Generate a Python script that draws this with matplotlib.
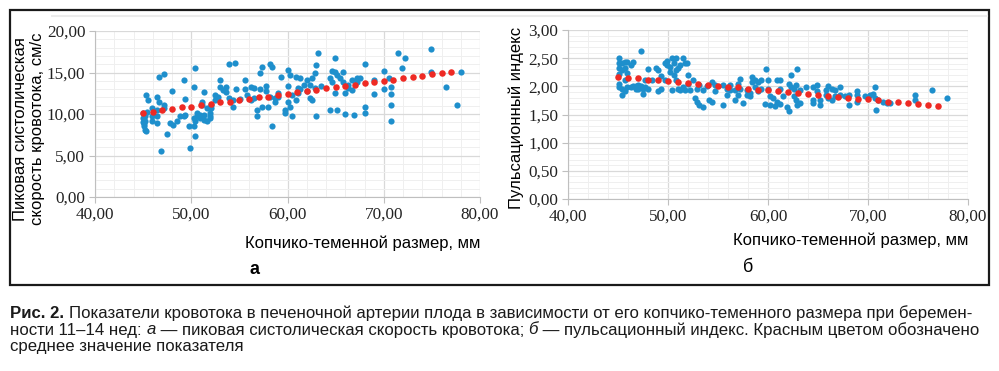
import matplotlib.pyplot as plt
from matplotlib.ticker import MultipleLocator, FuncFormatter
from matplotlib.patches import Rectangle
from matplotlib.lines import Line2D

# tick numbers are serif in the original; all other text sets its family itself
plt.rcParams['font.family'] = 'Liberation Serif'

# --- panel a: peak systolic velocity vs CRL ---
crl_a = [45.0, 45.0, 45.1, 45.2, 45.3, 45.0, 45.3, 45.5, 45.2, 45.1, 45.4, 45.2,
         45.9, 45.9, 45.9, 46.4, 46.4, 46.4, 46.4, 46.7, 46.7, 46.9, 47.2, 47.2, 47.2,
         47.5, 47.8, 48.0, 48.1, 48.5, 48.8, 49.2, 49.2, 49.4, 49.4, 49.8, 49.9,
         50.3, 50.3, 50.3, 50.4, 50.4, 50.4, 50.6, 50.6, 50.9, 50.9, 51.1, 51.1,
         51.3, 51.3, 51.3, 51.6, 51.6, 51.9, 51.9, 51.9, 52.0, 52.0, 52.5, 52.5,
         52.8, 53.0, 53.0, 53.3, 53.6, 53.6, 53.9, 53.9, 54.3, 54.3, 54.5, 54.7,
         55.1, 55.6, 55.6, 55.8, 56.2, 56.2, 56.5, 56.5, 56.8, 56.8, 57.1, 57.1,
         57.3, 57.3, 57.8, 57.8, 58.0, 58.2, 58.2, 58.4, 58.4, 58.7, 58.7, 59.0, 59.0,
         59.3, 59.7, 59.7, 60.0, 60.0, 60.0, 60.3, 60.3, 60.5, 60.5, 60.9, 60.9,
         61.1, 61.1, 61.3, 61.3, 61.7, 62.0, 62.0, 62.3, 62.3, 62.5, 62.5, 62.9, 62.9,
         63.0, 63.0, 63.2, 63.5, 64.4, 64.4, 64.6, 64.6, 64.9, 64.9, 64.9, 65.1, 65.1,
         65.5, 65.8, 65.8, 66.0, 66.0, 66.3, 66.3, 66.7, 66.7, 66.9, 67.2, 67.2, 67.5,
         68.1, 68.1, 68.1, 69.0, 69.0, 70.0, 70.0, 70.5, 70.8, 70.8, 70.8, 70.8,
         71.5, 71.9, 72.2, 74.9, 74.9, 76.5, 77.6, 78.0]
psv = [9.5, 9.0, 8.5, 8.1, 7.9, 10.1, 12.3, 11.7, 9.7, 8.8, 10.3, 9.2,
       9.7, 10.7, 9.1, 12.1, 10.5, 9.7, 8.9, 14.5, 11.5, 5.6, 14.8, 11.1, 10.7,
       7.6, 8.9, 12.8, 8.7, 9.1, 9.7, 14.1, 9.7, 11.8, 9.9, 8.5, 5.9,
       13.2, 9.5, 8.5, 15.6, 7.4, 9.1, 9.7, 10.1, 9.9, 9.5, 11.5, 11.1,
       12.6, 9.3, 9.9, 10.7, 9.1, 10.1, 9.7, 9.5, 11.1, 10.7, 12.3, 11.7,
       12.1, 14.1, 13.3, 12.9, 13.2, 12.7, 16.0, 11.9, 10.9, 11.7, 16.1, 13.0,
       11.8, 14.1, 13.0, 12.3, 13.3, 11.7, 13.1, 11.9, 9.7, 10.5, 15.0, 13.0,
       15.7, 10.9, 13.4, 12.8, 10.9, 16.0, 12.1, 15.7, 8.5, 11.5, 11.9, 12.1, 12.5,
       14.5, 10.1, 10.5, 15.3, 13.4, 11.5, 14.7, 10.9, 9.7, 12.3, 14.5, 11.7,
       13.1, 12.5, 14.3, 13.0, 13.5, 14.1, 12.8, 11.9, 13.5, 11.7, 14.3, 14.9, 13.1,
       15.9, 9.7, 17.4, 13.4, 14.3, 10.5, 15.2, 13.9, 16.8, 15.1, 12.5, 10.5, 14.7,
       14.3, 15.1, 13.9, 10.0, 12.5, 13.1, 13.5, 14.1, 12.9, 9.9, 13.9, 14.3, 14.3,
       16.0, 10.8, 10.1, 14.1, 12.4, 15.2, 13.0, 14.3, 13.2, 9.1, 12.4, 11.1,
       17.4, 15.6, 16.8, 17.8, 15.1, 13.2, 11.1, 15.1]

# --- panel b: pulsatility index vs CRL ---
crl_b = [45.1, 45.1, 45.1, 45.1, 45.1, 45.1, 45.4, 45.4, 45.4, 45.4,
         45.7, 45.7, 45.7, 45.7, 45.9, 45.9, 45.9, 46.3, 46.3, 46.5, 46.5, 46.8, 46.8,
         47.0, 47.0, 47.3, 47.3, 47.5, 47.5, 47.7, 47.7, 48.0, 48.0, 48.4, 48.8,
         49.0, 49.0, 49.3, 49.3, 49.7, 49.7, 49.9, 49.9, 50.2, 50.2, 50.4, 50.4,
         50.6, 50.6, 50.8, 50.8, 50.8, 51.0, 51.0, 51.2, 51.2, 51.5, 51.5, 51.7, 51.7,
         51.9, 52.0, 52.0, 52.2, 52.5, 52.7, 52.9, 52.9, 53.1, 53.1, 53.5, 53.5,
         53.9, 54.1, 54.4, 54.4, 54.7, 54.7, 55.5, 55.5, 55.9, 55.9, 56.2, 56.2,
         56.7, 56.7, 57.0, 57.0, 57.2, 57.2, 57.5, 57.9, 57.9, 58.2, 58.2, 58.4, 58.4,
         58.7, 58.7, 59.0, 59.0, 59.3, 59.3, 59.7, 59.8, 60.0, 60.0, 60.2, 60.2,
         60.5, 60.7, 60.9, 60.9, 61.2, 61.2, 61.2, 61.5, 61.9, 62.1, 62.1, 62.3, 62.3,
         62.6, 62.6, 62.8, 62.8, 62.9, 62.9, 63.2, 63.2, 63.8, 64.5, 64.5, 64.5,
         64.9, 64.9, 65.2, 65.2, 65.8, 65.8, 66.0, 66.0, 66.4, 66.4, 66.7, 66.7,
         67.2, 67.2, 67.7, 68.1, 68.1, 68.9, 68.9, 68.9, 69.7, 70.2, 70.5, 70.7,
         70.7, 70.8, 71.0, 71.5, 71.9, 72.2, 74.7, 74.7, 76.4, 77.9]
pi = [2.51, 2.42, 2.32, 2.22, 2.04, 1.98, 2.42, 2.29, 1.96, 1.85,
      2.44, 2.32, 2.11, 1.91, 2.44, 2.23, 1.98, 1.99, 2.38, 2.44, 2.00, 2.00, 1.95,
      2.02, 1.96, 2.62, 2.00, 1.86, 1.96, 2.11, 1.98, 2.30, 1.96, 2.12, 2.32,
      2.29, 1.92, 2.18, 1.95, 2.42, 2.11, 2.45, 2.38, 2.35, 2.26, 2.51, 1.93,
      2.42, 2.20, 2.50, 2.29, 2.11, 2.32, 1.96, 2.38, 1.93, 2.51, 1.99, 2.41, 1.93,
      2.42, 2.20, 2.05, 1.93, 2.11, 1.79, 1.73, 1.96, 1.67, 2.02, 1.64, 1.93,
      2.00, 1.76, 2.08, 1.73, 1.92, 2.02, 1.67, 2.02, 1.85, 1.96, 2.02, 1.93,
      1.93, 1.76, 1.85, 2.05, 2.13, 1.96, 1.70, 1.85, 1.93, 1.88, 1.83, 2.17, 2.08,
      1.99, 2.11, 1.91, 2.08, 2.11, 1.96, 1.69, 2.30, 2.11, 1.96, 1.82, 1.67,
      1.79, 1.65, 2.11, 1.73, 2.11, 1.96, 1.69, 1.82, 1.64, 1.57, 2.05, 2.20, 1.99,
      1.82, 1.96, 1.76, 2.02, 2.30, 1.67, 1.70, 1.93, 1.98, 1.76, 1.99, 1.70,
      2.02, 1.91, 1.67, 1.76, 1.93, 1.85, 2.00, 1.79, 1.96, 1.76, 1.82, 1.93,
      1.99, 1.85, 1.82, 1.67, 1.85, 1.91, 1.73, 1.85, 1.82, 1.85, 1.86, 1.99,
      1.79, 1.58, 1.76, 1.73, 1.71, 1.71, 1.85, 1.76, 1.93, 1.79]

# --- mean values (red dots) ---
mean_crl = [45, 46, 47, 48, 49, 50, 51, 52, 53, 54, 55, 56, 57, 58, 59, 60, 61,
            62, 63, 64, 65, 66, 67, 68, 69, 70, 71, 72, 73, 74, 75, 76, 77]
mean_psv = [10.1, 10.3, 10.5, 10.6, 10.8, 10.9, 11.1, 11.2, 11.4, 11.5, 11.7, 11.8,
            12.0, 12.1, 12.3, 12.4, 12.6, 12.8, 12.9, 13.1, 13.2, 13.4, 13.5, 13.7,
            13.8, 14.0, 14.1, 14.3, 14.4, 14.6, 14.8, 14.9, 15.1]
mean_pi = [2.17, 2.15, 2.14, 2.12, 2.11, 2.09, 2.07, 2.06, 2.04, 2.03, 2.01, 1.99,
           1.98, 1.96, 1.94, 1.93, 1.91, 1.90, 1.88, 1.86, 1.85, 1.83, 1.81, 1.80,
           1.78, 1.77, 1.75, 1.73, 1.72, 1.70, 1.68, 1.67, 1.65]

BLUE = '#1e8fcc'
RED = '#ee2a24'
SANS = 'Liberation Sans'
comma = FuncFormatter(lambda v, p: f'{v:.2f}'.replace('.', ','))

fig = plt.figure(figsize=(9.99, 3.71), dpi=100)


def panel(rect, x, y, mx, my, ymax, ymaj, ymin, ylabel):
    ax = fig.add_axes(rect)
    ax.scatter(x, y, s=20, color=BLUE, linewidths=0, zorder=3)
    ax.scatter(mx, my, s=22, color=RED, linewidths=0, zorder=4)
    ax.set_xlim(40, 80)
    ax.set_ylim(0, ymax)
    ax.xaxis.set_major_locator(MultipleLocator(10))
    ax.xaxis.set_minor_locator(MultipleLocator(2))
    ax.yaxis.set_major_locator(MultipleLocator(ymaj))
    ax.yaxis.set_minor_locator(MultipleLocator(ymin))
    ax.xaxis.set_major_formatter(comma)
    ax.yaxis.set_major_formatter(comma)
    ax.grid(which='major', color='#d9d9d9', lw=0.9)
    ax.grid(which='minor', color='#efefef', lw=0.7)
    ax.set_axisbelow(True)
    for s in ['top', 'right']:
        ax.spines[s].set_visible(False)
    for s in ['left', 'bottom']:
        ax.spines[s].set_color('#bfbfbf')
    ax.tick_params(which='major', length=4, color='#bfbfbf', labelsize=12.3, pad=3,
                   labelcolor='#222222')
    ax.tick_params(which='minor', length=0)
    ax.set_ylabel(ylabel, fontsize=12, family=SANS, va='center')
    ax.set_xlabel('Копчико-теменной размер, мм', fontsize=12, family=SANS,
                  ha='right', va='center')
    return ax


axa = panel([0.0951, 0.469, 0.3854, 0.4474], crl_a, psv, mean_crl, mean_psv,
            20, 5, 1, 'Пиковая систолическая\nскорость кровотока, см/с')
axb = panel([0.5686, 0.4636, 0.4004, 0.4555], crl_b, pi, mean_crl, mean_pi,
            3, 0.5, 0.1, 'Пульсационный индекс')
axa.yaxis.set_label_coords(-0.172, 0.41)
axa.xaxis.set_label_coords(1.0, -0.277)
axb.yaxis.set_label_coords(-0.13, 0.48)
axb.xaxis.set_label_coords(1.0, -0.243)

# frame around both panels and faint top line
fig.patches.append(Rectangle((10 / 999, 1 - 285 / 371), 979 / 999, 275 / 371,
                             transform=fig.transFigure, fill=False, ec='#1a1a1a', lw=1.6))
fig.lines.append(Line2D([52 / 999, 987 / 999], [1 - 16 / 371] * 2,
                        transform=fig.transFigure, color='#ebebeb', lw=1.5))

fig.text(254 / 999, 1 - 269 / 371, 'а', fontsize=13, weight='bold',
         family=SANS, ha='center', va='center')
fig.text(748 / 999, 1 - 268 / 371, 'б', fontsize=13,
         family=SANS, ha='center', va='center')

# caption, written piece by piece so bold / italic parts sit inline
renderer = fig.canvas.get_renderer()


def line(y, pieces):
    x = 10
    for txt, kw in pieces:
        t = fig.text(x / 999, 1 - y / 371, txt, fontsize=12.1, family=SANS,
                     va='center', color='#1a1a1a', **kw)
        x = t.get_window_extent(renderer).x1


line(313, [('Рис. 2. ', {'weight': 'bold'}),
           ('Показатели кровотока в печеночной артерии плода в зависимости от его '
            'копчико-теменного размера при беремен-', {})])
line(330, [('ности 11–14 нед: ', {}), ('а', {'style': 'italic'}),
           (' — пиковая систолическая скорость кровотока; ', {}),
           ('б', {'style': 'italic'}),
           (' — пульсационный индекс. Красным цветом обозначено', {})])
line(347, [('среднее значение показателя', {})])

fig.savefig('out.png', dpi=100)
